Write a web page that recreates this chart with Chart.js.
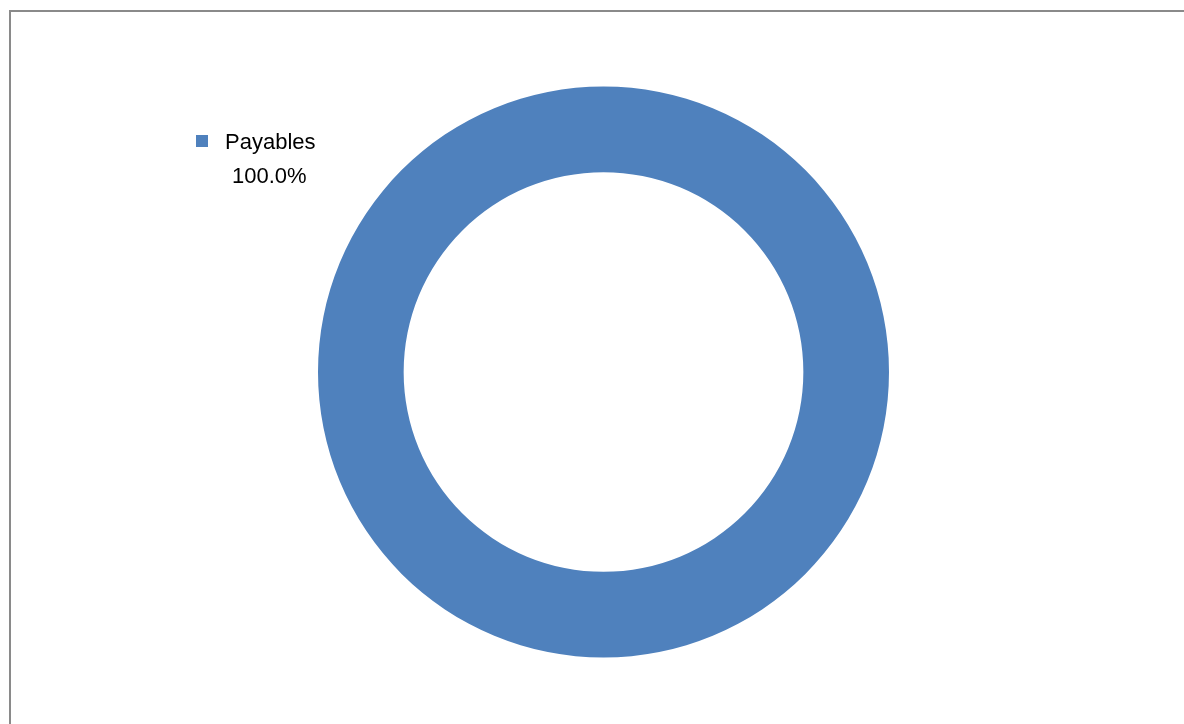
<!DOCTYPE html>
<html>
<head>
<meta charset="utf-8">
<script src="https://cdn.jsdelivr.net/npm/chart.js@4"></script>
<style>
  html, body { margin: 0; padding: 0; background: #fff; overflow: hidden; }
  #frame {
    position: absolute; left: 9px; top: 10px; width: 1300px; height: 800px;
    border: 2px solid #8a8a8a; box-sizing: border-box;
  }
  #wrap { position: absolute; left: 0; top: 0; width: 1184px; height: 724px; }
</style>
</head>
<body>
<div id="frame"></div>
<div id="wrap"><canvas id="donut"></canvas></div>
<script>
const labels = ['Payables'];
const values = [100];
const colors = ['#4f81bd'];

// legend drawn by hand: square, name, then percentage on a second line
const sideLegend = {
    id: 'sideLegend',
    afterDraw(chart) {
        const c = chart.ctx;
        const total = values.reduce((a, b) => a + b, 0);
        c.save();
        labels.forEach((name, i) => {
            const y = 149 + i * 68;
            c.fillStyle = colors[i];
            c.fillRect(196, y - 14, 12, 12);
            c.fillStyle = '#000';
            c.font = '22px "Liberation Sans", Arial, sans-serif';
            c.textBaseline = 'alphabetic';
            c.fillText(name, 225, y);
            c.fillText((values[i] / total * 100).toFixed(1) + '%', 232, y + 34);
        });
        c.restore();
    }
};

const ctx = document.getElementById('donut').getContext('2d');
const donut = new Chart(ctx, {
    type: 'doughnut',
    data: {
        labels: labels,
        datasets: [{
            data: values,
            backgroundColor: colors,
            borderWidth: 0
        }]
    },
    options: {
        responsive: true,
        maintainAspectRatio: false,
        animation: false,
        cutout: '70%',
        layout: { padding: { left: 318, right: 295, top: 86, bottom: 66 } },
        plugins: {
            legend: { display: false },
            tooltip: { enabled: false }
        },
        events: []
    },
    plugins: [sideLegend]
});
</script>
</body>
</html>
